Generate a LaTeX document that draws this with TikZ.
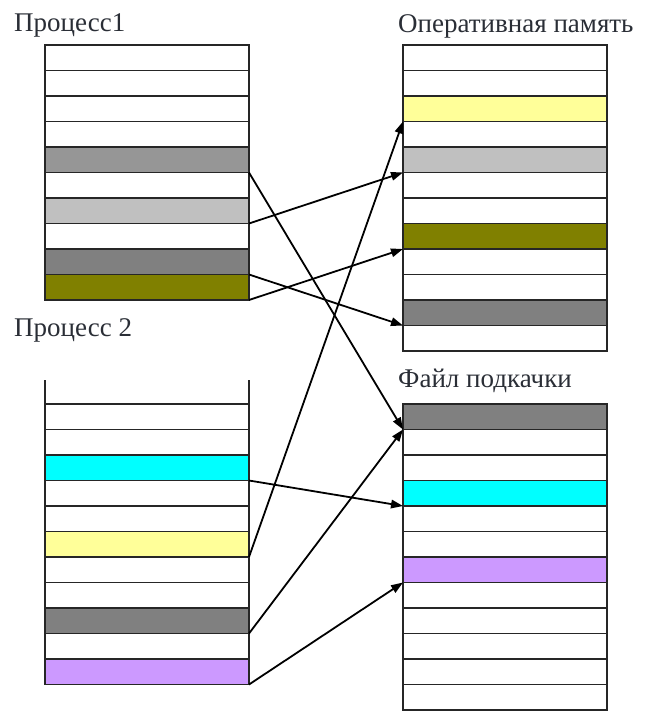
\documentclass[tikz,border=0pt]{standalone}
\usepackage{fontspec}
\setmainfont{Liberation Serif}
\usetikzlibrary{arrows.meta}
\definecolor{gA}{HTML}{969696}
\definecolor{gL}{HTML}{C0C0C0}
\definecolor{gD}{HTML}{808080}
\definecolor{ol}{HTML}{808000}
\definecolor{ye}{HTML}{FFFF99}
\definecolor{cy}{HTML}{00FFFF}
\definecolor{vi}{HTML}{CC99FF}
\definecolor{txt}{HTML}{2A2E36}
\tikzset{
  row/.style={draw=black!85, line width=1.7pt, minimum width=204pt, minimum height=25.5pt, inner sep=0pt, outer sep=0pt, anchor=north west},
  lbl/.style={anchor=base west, inner sep=0pt, text=txt, font=\fontsize{27}{30}\selectfont},
  arr/.style={draw=black, line width=1.8pt, -{Triangle[length=12pt,width=8.5pt]}},
  edge/.style={draw=black!85, line width=1.7pt}
}
\begin{document}
\begin{tikzpicture}[x=1pt,y=-1pt]
\useasboundingbox (0,0) rectangle (645,713);
% Process 1
\foreach \c [count=\i] in {white,white,white,white,gA,white,gL,white,gD,ol}
  \node[row, fill=\c] (p1r\i) at (45,{45+(\i-1)*25.5}) {};
% RAM
\foreach \c [count=\i] in {white,white,ye,white,gL,white,white,ol,white,white,gD,white}
  \node[row, fill=\c] (ram\i) at (403,{45+(\i-1)*25.5}) {};
% Swap file
\foreach \c [count=\i] in {gD,white,white,cy,white,white,vi,white,white,white,white,white}
  \node[row, fill=\c] (sw\i) at (403,{404+(\i-1)*25.5}) {};
% Process 2
\foreach \c [count=\i] in {white,white,cy,white,white,ye,white,white,gD,white,vi}
  \node[row, fill=\c] (p2r\i) at (45,{404+(\i-1)*25.5}) {};
\coordinate (p2tl) at (45,380);
\coordinate (p2tr) at (249,380);
\draw[edge] (p2tl) -- (p2r1.north west);
\draw[edge] (p2tr) -- (p2r1.north east);
% Labels
\node[lbl] (l1) at (14,31) {Процесс1};
\node[lbl] (l2) at (14,336) {Процесс 2};
\node[lbl] (l3) at (398,32) {Оперативная память};
\node[lbl] (l4) at (398,387) {Файл подкачки};
% Arrows
\draw[arr] (p1r5.south east) -- (sw1.south west);
\draw[arr] (p1r7.south east) -- (ram5.south west);
\draw[arr] (p1r9.south east) -- (ram11.south west);
\draw[arr] (p1r10.south east) -- (ram8.south west);
\draw[arr] (p2r6.south east) -- (ram3.south west);
\draw[arr] (p2r3.south east) -- (sw4.south west);
\draw[arr] (p2r9.south east) -- (sw1.south west);
\draw[arr] (p2r11.south east) -- (sw7.south west);
\end{tikzpicture}
\end{document}
